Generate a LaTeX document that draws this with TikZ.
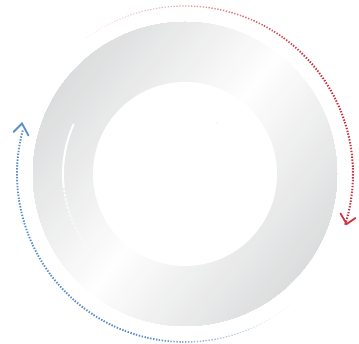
\documentclass[tikz,border=0pt]{standalone}
\usetikzlibrary{calc}
\definecolor{ringgray}{RGB}{214,215,216}
\definecolor{arcred}{RGB}{206,52,62}
\definecolor{arcblue}{RGB}{92,142,201}
\tikzset{
  dotarc/.style={line cap=butt, dash pattern=on 1.4pt off 1.6pt},
  chev/.style={line width=1.8pt, line cap=round, line join=miter}
}
\begin{document}
\begin{tikzpicture}[x=1pt,y=1pt]
\useasboundingbox (0,0) rectangle (359,344);
\coordinate (c) at (185,170);
% ring: linear gradient, white along the 52-degree axis, grey towards top-left and bottom-right
\begin{scope}
  \clip (c) circle (152pt);
  \begin{scope}[shift={(c)}, rotate=52]
    \foreach \i in {0,...,39}{
      \pgfmathsetmacro\d{\i*4}
      \pgfmathsetmacro\p{min(100,3+\d/180*100)}
      \fill[ringgray!\p!white] (-170,\d) rectangle (170,170);
      \fill[ringgray!\p!white] (-170,-\d) rectangle (170,-170);
    }
  \end{scope}
\end{scope}
\fill[white] (c) circle (92pt);
% tiny speck
\fill[gray!60] (217,221) circle (0.4pt);
% white highlight arc
\draw[white, line width=2pt, line cap=round] ([shift={(156:122pt)}]c) arc (156:186:122pt);
\foreach \i in {0,...,19}{
  \pgfmathsetmacro\a{186+\i*2}
  \pgfmathsetmacro\op{1-\i/20}
  \draw[white, line width=1.8pt, dotarc, opacity=\op] ([shift={(\a:122pt)}]c) arc (\a:\a+2:122pt);
}
% red arc (fades in from the top-left)
\foreach \i in {0,...,35}{
  \pgfmathsetmacro\a{126-\i*4}
  \pgfmathsetmacro\op{min(1,0.08+\i/22)}
  \pgfmathsetmacro\lw{min(2.0,0.8+\i/18)}
  \draw[arcred, dotarc, opacity=\op, line width=\lw pt] ([shift={(\a:168pt)}]c) arc (\a:\a-4:168pt);
}
\coordinate (rt) at (346.7,120);
\coordinate (ra) at (340.5,130.5);
\coordinate (rb) at (355.5,126);
\draw[arcred, chev] (ra) -- (rt) -- (rb);
% blue arc (fades out towards the bottom)
\foreach \i in {0,...,35}{
  \pgfmathsetmacro\a{165+\i*4}
  \pgfmathsetmacro\op{min(1,max(0.08,(35-\i)/12))}
  \pgfmathsetmacro\lw{min(1.9,max(0.7,0.7+(35-\i)/10))}
  \draw[arcblue, dotarc, opacity=\op, line width=\lw pt] ([shift={(\a:168pt)}]c) arc (\a:\a+4:168pt);
}
\coordinate (bt) at (22,220.5);
\coordinate (ba) at (13.5,212);
\coordinate (bb) at (28.5,208.5);
\draw[arcblue, chev] (ba) -- (bt) -- (bb);
\end{tikzpicture}
\end{document}
